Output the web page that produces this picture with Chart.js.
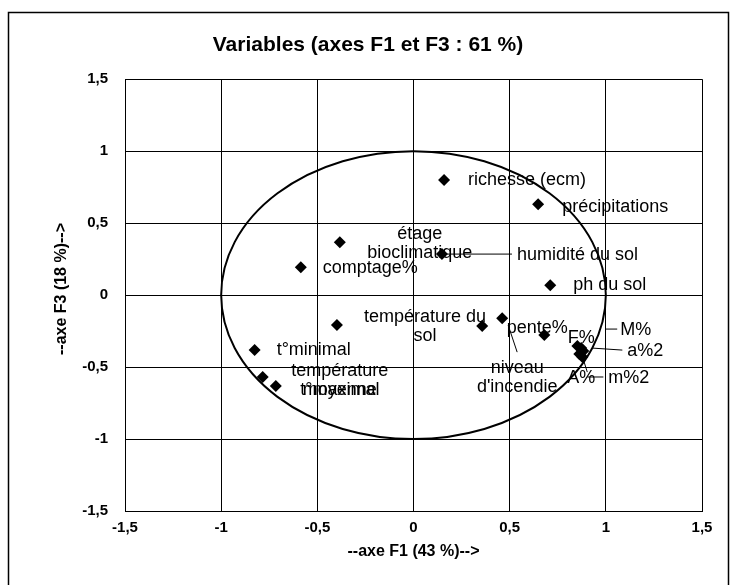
<!DOCTYPE html>
<html><head><meta charset="utf-8">
<script src="https://cdn.jsdelivr.net/npm/chart.js@4.4.0/dist/chart.umd.min.js"></script>
<style>html,body{margin:0;padding:0;background:#fff;}#wrap{width:735px;height:585px;position:relative;}</style>
</head><body><div id="wrap"><canvas id="c" width="735" height="585"></canvas></div>
<script>
// ---- data ----
const variableNames = ['richesse (ecm)','précipitations','étage bioclimatique','comptage%','humidité du sol','ph du sol','température du sol','','niveau d\'incendie','pente%','t°minimal','température moyenne','t°maximal','F%','M%','a%2','A%','m%2'];
const f1Values = [0.159, 0.648, -0.383, -0.586, 0.148, 0.711, -0.398, 0.357, 0.461, 0.680, -0.826, -0.784, -0.716, 0.852, 0.872, 0.883, 0.862, 0.878];
const f3Values = [0.799, 0.632, 0.368, 0.194, 0.285, 0.069, -0.208, -0.215, -0.160, -0.278, -0.382, -0.569, -0.632, -0.354, -0.368, -0.389, -0.410, -0.430];
const axisTicks = [-1.5, -1, -0.5, 0, 0.5, 1, 1.5];
const axisTickLabels = ['-1,5', '-1', '-0,5', '0', '0,5', '1', '1,5'];
const chartTitle = 'Variables (axes F1 et F3 : 61 %)';
const xAxisTitle = '--axe F1 (43 %)-->';
const yAxisTitle = '--axe F3 (18 %)-->';

// ---- label layout (pixel offsets from each point) ----
const labelLayout = [
  {dx:24, dy:0, align:'left'},
  {dx:24, dy:3, align:'left'},
  {dx:80, dy:-8, align:'center', split:true},
  {dx:22, dy:1, align:'left'},
  {dx:75, dy:1, align:'left', leader:[0,0,70,0]},
  {dx:23, dy:0, align:'left'},
  {dx:88, dy:-8, align:'center', split:true},
  null,
  {dx:15, dy:50, align:'center', split:true, leader:[6,7,15,34]},
  {dx:-7, dy:-7, align:'center'},
  {dx:22, dy:0, align:'left'},
  {dx:77, dy:-6, align:'center', split:true},
  {dx:64, dy:4, align:'center'},
  {dx:4, dy:-8, align:'center'},
  {dx:39, dy:-18, align:'left', leader:[24,-19,36,-19]},
  {dx:44, dy:0, align:'left', leader:[9,-3,39,-1]},
  {dx:2, dy:24, align:'center', leader:[3,2,8,18]},
  {dx:26, dy:21, align:'left', leader:[5,20,21,20]}
];

const LABEL_FONT = '18px "Liberation Sans", Arial, sans-serif';
const LINE_H = 19;

const decorPlugin = {
  id: 'decor',
  beforeDraw(chart) {
    const ctx = chart.ctx;
    ctx.save();
    ctx.fillStyle = '#fff';
    ctx.fillRect(0, 0, chart.width, chart.height);
    ctx.strokeStyle = '#000';
    ctx.lineWidth = 1.5;
    ctx.beginPath();
    ctx.moveTo(8.5, 600); ctx.lineTo(8.5, 12.5); ctx.lineTo(728.5, 12.5); ctx.lineTo(728.5, 600);
    ctx.stroke();
    ctx.restore();
  },
  beforeDatasetsDraw(chart) {
    const ctx = chart.ctx, xs = chart.scales.x, ys = chart.scales.y;
    const cx = xs.getPixelForValue(0), cy = ys.getPixelForValue(0);
    const rx = xs.getPixelForValue(1) - cx, ry = cy - ys.getPixelForValue(1);
    ctx.save();
    ctx.strokeStyle = '#000';
    ctx.lineWidth = 2;
    ctx.beginPath();
    ctx.ellipse(cx, cy, rx, ry, 0, 0, Math.PI * 2);
    ctx.stroke();
    ctx.restore();
  },
  afterDatasetsDraw(chart) {
    const ctx = chart.ctx, xs = chart.scales.x, ys = chart.scales.y;
    ctx.save();
    ctx.fillStyle = '#000';
    ctx.strokeStyle = '#000';
    ctx.lineWidth = 1;
    ctx.font = LABEL_FONT;
    ctx.textBaseline = 'middle';
    variableNames.forEach((name, i) => {
      const L = labelLayout[i];
      if (!L || !name) return;
      const px = xs.getPixelForValue(f1Values[i]);
      const py = ys.getPixelForValue(f3Values[i]);
      if (L.leader) {
        ctx.beginPath();
        ctx.moveTo(px + L.leader[0], py + L.leader[1]);
        ctx.lineTo(px + L.leader[2], py + L.leader[3]);
        ctx.stroke();
      }
      let lines = [name];
      if (L.split) {
        const k = name.lastIndexOf(' ');
        lines = [name.slice(0, k), name.slice(k + 1)];
      }
      ctx.textAlign = L.align;
      lines.forEach((t, j) => ctx.fillText(t, px + L.dx, py + L.dy + j * LINE_H));
    });
    ctx.restore();
  },
  afterDraw(chart) {
    const ctx = chart.ctx, ca = chart.chartArea;
    ctx.save();
    ctx.fillStyle = '#000';
    ctx.font = 'bold 16px "Liberation Sans", Arial, sans-serif';
    ctx.textAlign = 'center';
    ctx.textBaseline = 'middle';
    ctx.fillText(xAxisTitle, (ca.left + ca.right) / 2, 552);
    ctx.translate(62, 289);
    ctx.rotate(-Math.PI / 2);
    ctx.fillText(yAxisTitle, 0, 0);
    ctx.restore();
  }
};

const tickFmt = (v) => {
  const k = axisTicks.findIndex(t => Math.abs(t - v) < 1e-9);
  return k >= 0 ? axisTickLabels[k] : '';
};

new Chart(document.getElementById('c'), {
  type: 'scatter',
  data: {
    datasets: [{
      data: variableNames.map((n, i) => ({x: f1Values[i], y: f3Values[i]})),
      pointStyle: 'rectRot',
      pointRadius: 6,
      pointHoverRadius: 6,
      backgroundColor: '#000',
      borderColor: '#000',
      borderWidth: 0
    }]
  },
  options: {
    responsive: false,
    animation: false,
    devicePixelRatio: 1,
    layout: {padding: {left: 34, right: 33, top: 0, bottom: 0}},
    plugins: {
      legend: {display: false},
      tooltip: {enabled: false},
      title: {
        display: true,
        text: chartTitle,
        color: '#000',
        font: {family: '"Liberation Sans", Arial, sans-serif', size: 21, weight: 'bold'},
        padding: {top: 33, bottom: 21}
      }
    },
    scales: {
      x: {
        type: 'linear', min: -1.5, max: 1.5,
        afterBuildTicks: (s) => { s.ticks = axisTicks.map(v => ({value: v})); },
        afterFit: (s) => { s.height = 74; },
        grid: {color: '#000', lineWidth: 1, drawTicks: false},
        border: {color: '#000', width: 1},
        ticks: {callback: tickFmt, color: '#000', padding: 8, maxRotation: 0,
          font: {family: '"Liberation Sans", Arial, sans-serif', size: 15, weight: 'bold'}}
      },
      y: {
        type: 'linear', min: -1.5, max: 1.5,
        afterBuildTicks: (s) => { s.ticks = axisTicks.map(v => ({value: v})); },
        afterFit: (s) => { s.width = 91; },
        grid: {color: '#000', lineWidth: 1, drawTicks: false},
        border: {color: '#000', width: 1},
        ticks: {callback: tickFmt, color: '#000', padding: 17,
          font: {family: '"Liberation Sans", Arial, sans-serif', size: 15, weight: 'bold'}}
      }
    }
  },
  plugins: [decorPlugin]
});
</script></body></html>
